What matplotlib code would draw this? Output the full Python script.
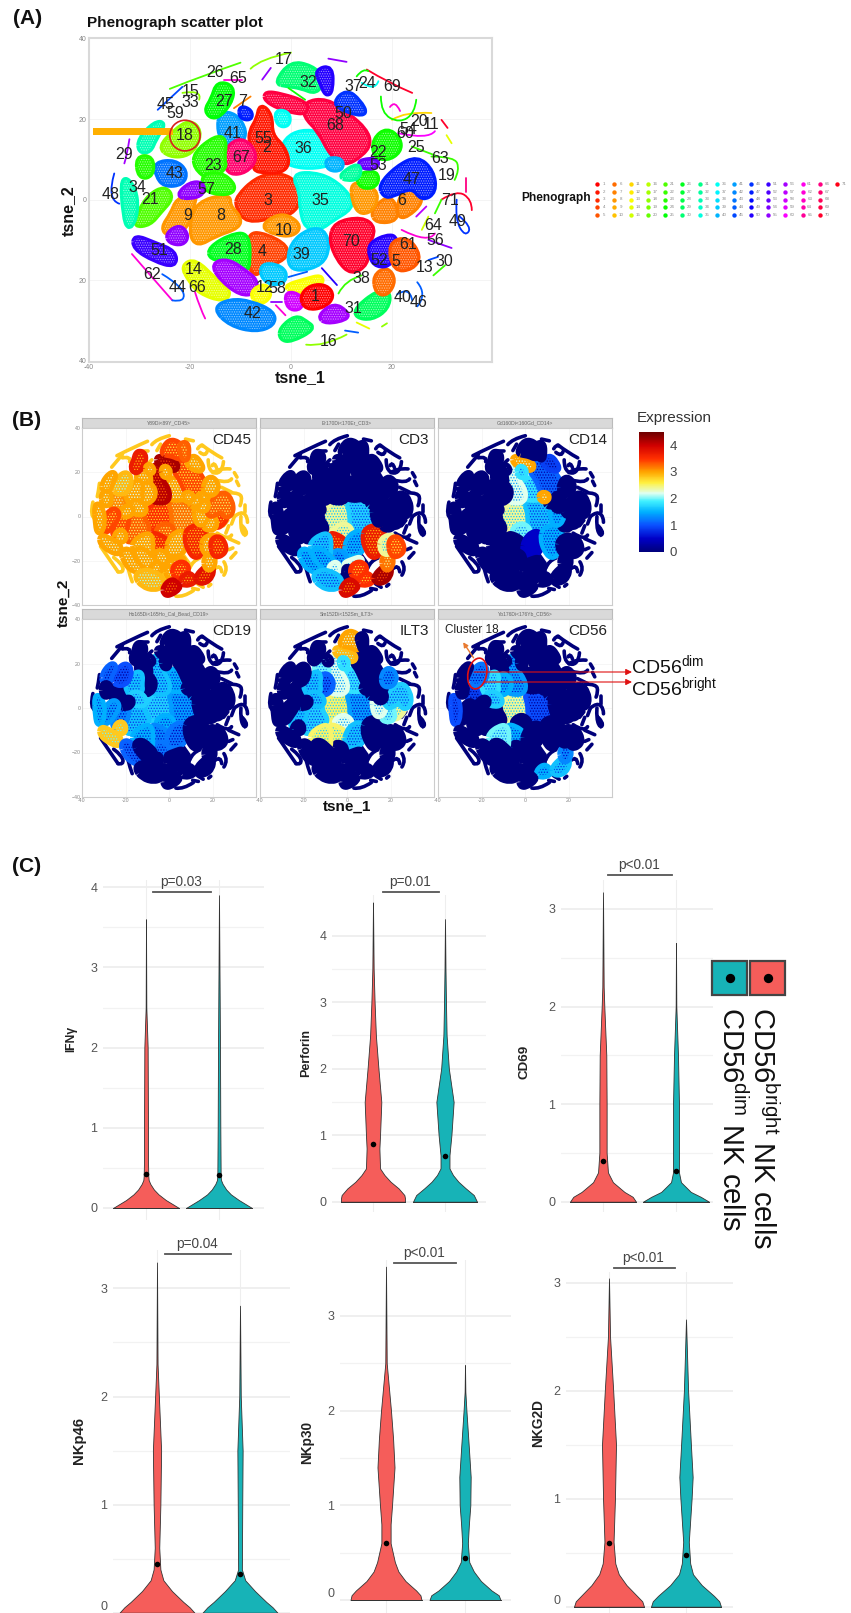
import numpy as np
import matplotlib
matplotlib.use('Agg')
import matplotlib.pyplot as plt
from matplotlib.colors import hsv_to_rgb, LinearSegmentedColormap, Normalize, to_rgb
from matplotlib.patches import Ellipse, Rectangle, PathPatch
from matplotlib.path import Path
from matplotlib.cm import ScalarMappable

plt.rcParams['font.family'] = ['Liberation Sans', 'DejaVu Sans']
plt.rcParams['mathtext.fontset'] = 'custom'
plt.rcParams['mathtext.rm'] = 'Liberation Sans'
plt.rcParams['mathtext.default'] = 'rm'
plt.rcParams['hatch.linewidth'] = 0.6

W, H = 851, 1613

# tSNE clusters: name, colour number, outline
cluster_outlines = [
    ('3', 3, [(-10.5, 0.7), (-7, 5), (-3, 6.5), (1, 4.5), (1.9, 0), (0, -3.4), (-3, -4), (-8.7, -5.5), (-10.7, -1.7)]),
    ('35', 35, [(0.5, 6), (4, 6.5), (8, 5), (11.5, 1), (12, -2), (8, -5), (6, -7), (3, -7), (2, -2), (2, 2)]),
    ('36', 36, [(-1, 15), (2, 17), (6, 16.5), (8, 12), (9, 9.5), (5, 8), (0, 8.5), (-2, 11)]),
    ('2', 2, [(-6, 23.5), (-4, 21), (-4, 16), (-1.5, 13), (-0.5, 9), (-2, 7), (-5, 7), (-7.5, 7.5), (-6.5, 11), (-8, 14), (-8, 17), (-6.5, 20)]),
    ('68', 69, [(2.8, 24), (7, 24.8), (11.4, 21), (14.7, 17.3), (15.6, 14), (14, 11.2), (10.7, 8.7), (8, 11.2), (5.5, 17.3), (2.8, 20.6)]),
    ('50', 69, [(-5, 26.5), (-2, 26), (3, 24), (3, 21.5), (0, 22), (-2.5, 23), (-5, 24.8)]),
    ('8', 8, [(-18.9, -1), (-12.3, 1.2), (-12.3, -1.7), (-10.3, -4.2), (-10.3, -6.7), (-15, -8.7), (-18.5, -11.3), (-19.9, -8.4)]),
    ('9', 8, [(-22.5, -0.1), (-18.9, 1.6), (-19.5, -1.7), (-20.5, -6.7), (-24.1, -8.8), (-25.5, -7.1), (-23.5, -3.4)]),
    ('10', 8, [(-5.7, -6.7), (-3, -4.2), (-0.5, -4.2), (1.8, -6.7), (0.2, -8.8), (-3, -8.4)]),
    ('4', 4, [(-8.4, -8.4), (-5, -8.8), (-0.8, -11.7), (-1.2, -14.6), (-5.7, -16.7), (-7, -18.8), (-8.4, -15.9)]),
    ('39', 39, [(0.2, -10.9), (3.5, -7.6), (6.4, -7.6), (7.4, -11.7), (6.1, -15.9), (1.5, -17.5), (-0.5, -15.9)]),
    ('39b', 39, [(-5.7, -16.3), (-3, -16.3), (-1.1, -18), (-1.5, -20.5), (-4, -20.8), (-5.7, -19)]),
    ('70', 70, [(8.8, -5.9), (14, -4.6), (16.6, -7.1), (15, -11.7), (15, -15.9), (12, -18.3), (9.4, -15), (7.8, -10)]),
    ('28', 26, [(-16, -12), (-12, -9), (-8.5, -8.5), (-8.4, -16), (-9, -17.5), (-12, -15), (-16, -14.5)]),
    ('43', 43, [(-26.8, 9), (-23, 9.5), (-20.8, 7), (-21.5, 4), (-25, 3.5), (-26.5, 6)]),
    ('41', 41, [(-14, 21.5), (-11, 21), (-9, 17), (-10, 14), (-13, 14), (-14.3, 17)]),
    ('67', 67, [(-13, 12), (-10.5, 15), (-8, 13.5), (-7, 10), (-9, 7), (-12, 6.5), (-13, 9)]),
    ('23', 23, [(-19, 11.5), (-15, 15.5), (-13, 15), (-13.5, 10), (-13, 8), (-16, 5), (-19, 8)]),
    ('23b', 23, [(-17.5, 6), (-14, 6.5), (-11.5, 4), (-11.5, 2), (-14, 1.5), (-17, 2.5)]),
    ('18', 18, [(-26, 13), (-23, 17), (-20, 19.5), (-18, 17), (-19, 13), (-21, 11), (-24, 11)]),
    ('57', 55, [(-22.5, 1), (-20, 4), (-17.5, 4), (-17.5, 1.5), (-20, 0.5)]),
    ('21', 21, [(-28, 1), (-25, 3), (-23.5, 0.5), (-26, -3), (-28, -6), (-31, -6.5), (-30, -3)]),
    ('34a', 33, [(-33.5, 6), (-31, 3), (-30.5, -3), (-32, -7.5), (-33, -4)]),
    ('29a', 33, [(-30, 15), (-27, 19), (-25, 19), (-27, 15), (-28, 12), (-30, 12)]),
    ('34b', 23, [(-30.5, 10.5), (-27.5, 10.5), (-27.5, 6), (-30, 5.5)]),
    ('51', 51, [(-31, -9), (-27, -11), (-23, -13), (-23, -16.5), (-27, -15), (-31, -12)]),
    ('p9', 55, [(-24.5, -8.5), (-22, -6.5), (-20.5, -9), (-21.5, -11), (-24, -10.5)]),
    ('14', 14, [(-21.5, -16.5), (-19, -15), (-15, -20), (-12, -23), (-13.5, -25), (-18, -23), (-20, -20)]),
    ('12p', 56, [(-15.5, -16), (-12.5, -15), (-9, -18), (-7, -20), (-7, -23), (-10, -23.5), (-14, -19.5)]),
    ('12', 13, [(-8, -23), (-5, -21), (-4, -24), (-6.5, -26)]),
    ('58', 13, [(-1, -21.5), (3, -20), (6, -19), (6, -21), (3, -23), (0, -22.5)]),
    ('58p', 58, [(-1, -23), (2, -24), (2, -27), (-0.5, -27)]),
    ('1', 1, [(2, -24), (4, -21.5), (7, -21.5), (8.3, -24), (6.5, -26.5), (3, -27)]),
    ('42', 42, [(-15.2, -27), (-12, -25), (-8, -25.5), (-3.5, -28), (-3.5, -31), (-7, -32.5), (-12, -31)]),
    ('31', 56, [(5.5, -29), (8.5, -26), (11, -28), (11, -29.5), (7, -30.5)]),
    ('16', 29, [(-2, -32), (1, -29), (3, -30.5), (4.5, -32), (0, -35), (-2, -34.5)]),
    ('38', 29, [(13, -27), (17, -23), (19.5, -23), (19, -27), (16, -29.5), (13, -29)]),
    ('5o', 6, [(16.5, -19), (19, -17), (20.5, -20), (19, -23.5), (17, -23)]),
    ('52', 50, [(15.7, -11), (19, -9), (21, -9.5), (20, -16), (17, -16.5), (15.7, -14)]),
    ('5', 5, [(19.5, -11), (23, -9.5), (25.5, -14), (24, -17), (20.5, -17.5)]),
    ('6', 7, [(21, -2), (23, 3.5), (26.5, 0), (22, -5)]),
    ('6b', 7, [(16, -3), (19, 0.5), (20.5, -1), (21, -5), (17, -5.5)]),
    ('6c', 8, [(12, 4.5), (17, 2.5), (16.5, -2), (14, -3.5), (12.5, -1)]),
    ('47', 47, [(17.6, 3.5), (21, 8), (25, 10.5), (28, 7), (28.5, 2), (26, 0), (24, 3.5), (20, 1), (18.5, 1)]),
    ('53g', 24, [(13, 6), (17, 7), (17, 3.5), (14, 3)]),
    ('53p', 53, [(13.5, 9.5), (17, 10), (17, 8), (14, 8)]),
    ('32b', 32, [(9.7, 6), (13.5, 9), (13.5, 5.5), (11, 5)]),
    ('22', 24, [(16.5, 15), (19, 17.5), (21.5, 15), (21.5, 12), (19, 10), (16.5, 11)]),
    ('37', 46, [(8.5, 24), (11, 27), (13.5, 24.5), (15, 21), (11, 22)]),
    ('32', 30, [(-3, 29), (0, 34), (4, 33), (6.5, 30), (5, 26.5), (2, 28), (-1, 28.5)]),
    ('32p', 50, [(5, 32), (8, 33), (8, 27), (7, 26), (6, 29)]),
    ('27', 25, [(-14.5, 29), (-11.5, 28), (-12, 24), (-15, 20), (-17, 22), (-15.5, 25)]),
    ('7b', 47, [(-10, 23), (-8, 22), (-8, 20), (-10, 20.5)]),
    ('36b', 36, [(-3, 22), (-0.5, 21.5), (-0.5, 18.5), (-2.5, 18.5)]),
    ('40', 40, [(7, 10), (10, 10), (10, 7.5), (7.5, 7.5)]),
]

# thin arcs round the outside of the map: colour number, points
strands = [
    (21, [(-24, 27.5), (-17, 31), (-10, 34)]), (18, [(-8, 32.5), (-6, 35), (0, 36.5)]),
    (56, [(-32, 15), (-32.5, 11), (-33, 9)]), (46, [(-35, 6.5), (-36.5, 0), (-34, -1)]),
    (62, [(-31.5, -13.5), (-27, -20), (-23.5, -25)]), (44, [(-25.5, -18.5), (-21.5, -21.5), (-21, -25.5), (-23.5, -25)]),
    (62, [(-19, -23), (-18, -27), (-17, -29.5)]), (18, [(3, -36), (6.5, -36.5), (11, -33.5)]),
    (44, [(10.7, -32.5), (13.3, -33)]), (14, [(13, -30.5), (15.5, -32)]), (18, [(18, -31.5), (19, -30.7)]),
    (44, [(21, -23.5), (23.5, -21.5), (24, -25)]), (44, [(25, -20.5), (27, -23.5), (25, -26.5)]),
    (46, [(32.8, 0), (32.5, -5), (34.5, -9.2), (35.8, -6.7), (33.4, -4.2)]),
    (70, [(29.8, 0), (32.8, 2.4), (35.8, 0), (35.8, -2.6)]), (22, [(27.8, 10.7), (32.4, 10.7), (33.4, 7.4), (32.4, 4.9)]),
    (70, [(29.8, 19.8), (31, 17.8)]), (14, [(30.8, 16), (31.8, 14)]), (22, [(23.9, 13.2), (28.5, 11)]),
    (11, [(20, 19.8), (22.5, 21.9), (27.8, 21.5)]), (24, [(17.8, 25.6), (17.8, 21.5), (21.5, 19), (24.5, 21.5), (24.8, 24.8)]),
    (62, [(19.6, 23), (20.6, 24.8), (21.6, 22)]), (60, [(21.2, 16.5), (27.2, 14.9), (28.5, 17)]),
    (70, [(15, 32.3), (19.3, 29), (24, 26.5)]), (24, [(13, 30.6), (14.3, 32.7), (15.3, 31.9)]),
    (36, [(14, 29), (16.6, 26.9), (17.3, 29.4)]), (24, [(-0.5, 27.7), (2.8, 24.8)]), (62, [(-13.3, 29.8), (-9.7, 29.8)]),
    (55, [(-5.7, 29.8), (-4, 32.7)]), (7, [(-11.3, 22.7), (-8, 25.6)]), (18, [(-21.5, 26.5), (-17.5, 27.3), (-18.2, 24.8)]),
    (45, [(-26.4, 22.3), (-21.5, 28)]), (55, [(7.4, 35), (11, 34.2)]), (62, [(21.9, -7.5), (27.2, -10.9), (28.5, -8.4)]),
    (55, [(27.2, -10), (31.8, -12)]), (22, [(28.5, -3.4), (29.8, 0)]), (15, [(25.9, -7.5), (27.2, -4.2)]),
    (57, [(24.8, -4.2), (26.8, -1.7)]), (66, [(34.7, 5.3), (34.7, 2)]), (22, [(28.2, -18.8), (30.5, -16.3)]),
    (45, [(27.2, -15), (29.1, -14.2)]), (22, [(9.4, -23.3), (10.7, -20), (14, -18.8)]), (50, [(6.1, -17), (9.1, -21.2)]),
    (44, [(-0.5, -19.2), (3.2, -17.9)]), (55, [(-4, -25.4), (-1.8, -25.4)]), (62, [(-3, -26.2), (-1.1, -28.7)]),
]

# number labels on panel A
label_ids = [17, 26, 65, 32, 37, 24, 69, 15, 33, 45, 59, 27, 7, 50, 68, 20, 11, 54, 60, 18, 41, 55, 2, 36, 25, 22, 29, 67,
             63, 23, 53, 19, 43, 47, 34, 57, 48, 21, 3, 35, 6, 71, 9, 8, 49, 64, 10, 56, 70, 28, 4, 61, 51, 39, 52, 5, 30,
             13, 14, 62, 38, 44, 66, 12, 58, 1, 40, 46, 31, 42, 16]
label_x = [-1.4, -15, -10.5, 3.5, 12.4, 15, 20, -19.9, -20, -24.9, -23, -13.2, -9.5, 10.3, 8.8, 25.3, 27.8, 23.2, 22.6, -21,
           -11.5, -5.5, -4.9, 2.5, 24.7, 17.3, -33, -9.9, 29.5, -15.5, 17.3, 30.8, -23, 23.9, -30.4, -16.8, -35.8, -27.9,
           -4.5, 5.8, 21.9, 31.4, -20.5, -13.9, 32.9, 28.2, -1.4, 28.5, 11.9, -11.5, -5.7, 23.2, -26.1, 2, 17.4, 20.8,
           30.3, 26.4, -19.2, -27.6, 14, -22.4, -18.6, -5.3, -2.8, 4.8, 22, 25.2, 12.4, -7.7, 7.4]
label_y = [34.8, 31.5, 30, 29, 28, 28.8, 28, 26.9, 24.2, 23.6, 21.3, 24.4, 24.4, 21.5, 18.3, 19.4, 18.6, 17.5, 16.3, 15.9,
           16.3, 15.3, 12.9, 12.6, 13, 11.8, 11.1, 10.5, 10.1, 8.5, 8.4, 6.1, 6.4, 5, 3, 2.6, 1.2, 0.1, -0.1, -0.1, -0.3,
           -0.3, -4, -4, -5.5, -6.3, -7.6, -10.2, -10.3, -12.4, -12.8, -11.1, -12.7, -13.6, -15, -15.4, -15.4, -16.8,
           -17.3, -18.5, -19.6, -21.7, -21.9, -21.9, -22.1, -24.1, -24.4, -25.6, -27.1, -28.3, -35.1]

# panel B: expression per cluster, clusters not listed take the default
markers = ['CD45', 'CD3', 'CD14', 'CD19', 'ILT3', 'CD56']
strip_titles = ['Y89Di<89Y_CD45>', 'Er170Di<170Er_CD3>', 'Gd160Di<160Gd_CD14>',
                'Ho165Di<165Ho_Cal_Bead_CD19>', 'Sm152Di<152Sm_ILT3>', 'Yb176Di<176Yb_CD56>']
default_expr = [3.0, 0, 0, 0, 0, 0]
strand_expr = [2.8, 0, 0, 0, 0, 0]
expr_cd45 = {'2': 4.1, '50': 4.2, '68': 3.4, '3': 3.5, '35': 3.2, '8': 3.3, '9': 3.4, '4': 3.6, '70': 3.6, '10': 3.3,
             '16': 4.0, '38': 3.8, '31': 3.7, '1': 3.5, '27': 3.7, '32': 3.4, '32p': 3.3, '21': 3.4, '42': 2.9, '5': 3.6,
             '47': 3.3, '6': 3.5, '18': 2.9, '43': 3.1}
expr_cd3 = {'3': 2.4, '35': 1.7, '10': 2.4, '4': 3.7, '39': 1.5, '39b': 1.4, '70': 3.7, '5': 3.4, '52': 2.4, '1': 3.5,
            '16': 3.9, '38': 4.2, '31': 3.5, '28': 1.6, '14': 1.5, '12p': 1.5, '42': 1.6, '58': 2.2, '12': 2.2, '5o': 3.2}
expr_cd14 = {'2': 2.2, '50': 3.0, '36': 1.8, '36b': 1.8, '68': 1.1, '35': 1.6, '3': 2.4, '70': 1.5, '40': 3.0, '37': 0.9,
             '10': 2.0, '39': 0.5, '6c': 1.5}
expr_cd19 = {'p9': 2.8, '51': 2.8, '34a': 1.5, '21': 1.4, '29a': 1.1, '18': 1.0, '23': 1.6, '23b': 1.7, '3': 1.7, '8': 1.6,
             '35': 1.4, '2': 1.6, '36': 1.5, '4': 1.3, '10': 1.5, '39': 1.2, '28': 1.5, '9': 1.3, '39b': 1.2, '14': 1.1}
expr_ilt3 = {'32': 3.0, '50': 2.9, '2': 2.2, '36': 1.8, '36b': 1.8, '3': 2.5, '35': 1.4, '47': 1.7, '6': 2.4, '6c': 2.2,
             '6b': 2.0, '4': 2.5, '8': 1.7, '9': 1.6, '28': 2.5, '10': 2.2, '23': 1.6, '23b': 1.6, '67': 1.1, '22': 1.3,
             '41': 2.0, '39': 1.6}
expr_cd56 = {'18': 1.2, '23': 1.8, '23b': 1.7, '3': 2.4, '67': 1.5, '43': 0.9, '28': 2.0, '31': 1.5, '2': 1.4, '35': 1.0,
             '4': 1.5, '5o': 1.3, '38': 1.6, '34a': 1.0}
expr_tables = [expr_cd45, expr_cd3, expr_cd14, expr_cd19, expr_ilt3, expr_cd56]

exp_colors = ['#00007A', '#0000C8', '#0A50FF', '#00B0FF', '#40F0FF', '#E0FFF0', '#FFF040', '#FFA500', '#FF3000', '#D00000',
              '#6B0000']
exp_stops = [0, 0.5, 1, 1.5, 1.9, 2.2, 2.6, 3, 3.5, 4, 4.5]

# panel C: violin outlines, half width as a share of the full half width
violin_names = ['IFNγ', 'Perforin', 'CD69', 'NKp46', 'NKp30', 'NKG2D']
violin_p = ['p=0.03', 'p=0.01', 'p<0.01', 'p=0.04', 'p<0.01', 'p<0.01']
red_y = [[0, .05, .1, .17, .23, .3, .35, .4, .6, 1, 2, 2.5, 3.6],
         [0, .05, .1, .2, .3, .4, .5, .8, 1, 1.5, 2, 2.5, 3, 3.5, 4, 4.5],
         [0, .05, .1, .2, .3, .5, 1, 1.5, 2, 2.2, 3.17],
         [0, .05, .1, .2, .3, .4, .6, 1, 1.5, 2, 2.3, 3.24],
         [0, .05, .1, .2, .3, .4, .6, .8, 1, 1.4, 1.7, 2, 2.5, 3.52],
         [0, .05, .1, .2, .3, .4, .6, 1, 1.5, 2, 2.5, 3.04]]
red_w = [[1, .8, .6, .38, .24, .13, .08, .07, .06, .06, .05, .01, 0],
         [1, 1, .98, .8, .55, .36, .22, .2, .22, .26, .17, .09, .05, .02, .01, 0],
         [1, .9, .65, .3, .15, .11, .11, .1, .04, .02, 0],
         [1, .87, .7, .4, .17, .09, .06, .09, .11, .05, .015, 0],
         [1, .97, .85, .55, .35, .25, .13, .13, .17, .24, .2, .14, .02, 0],
         [1, .95, .8, .5, .28, .18, .13, .17, .2, .12, .03, 0]]
teal_y = [[0, .05, .1, .17, .23, .3, .35, .4, 1, 2, 3.9],
          [0, .1, .2, .3, .4, .5, .7, 1, 1.5, 2, 2.5, 3, 3.5, 4.25],
          [0, .05, .1, .2, .3, .5, 1, 1.5, 2, 2.65],
          [0, .05, .1, .2, .3, .4, 1, 1.5, 2, 2.84],
          [0, .05, .1, .2, .3, .4, .6, .8, 1, 1.3, 1.6, 2, 2.2, 2.48],
          [0, .05, .1, .2, .3, .4, .6, 1, 1.2, 1.5, 2, 2.66]]
teal_w = [[1, .8, .6, .36, .22, .11, .06, .05, .04, .03, 0],
          [1, .9, .65, .42, .25, .14, .14, .2, .27, .12, .05, .03, .015, 0],
          [1, .75, .45, .15, .09, .09, .09, .06, .01, 0],
          [1, .87, .7, .4, .14, .05, .06, .07, .02, 0],
          [1, .95, .75, .45, .25, .12, .08, .11, .15, .16, .11, .04, .01, 0],
          [1, .95, .8, .45, .2, .12, .08, .16, .19, .14, .06, 0]]
red_dot = [.42, .87, .42, .45, .6, .59]
teal_dot = [.41, .69, .31, .36, .44, .48]
violin_ticks = [[0, 1, 2, 3, 4], [0, 1, 2, 3, 4], [0, 1, 2, 3], [0, 1, 2, 3], [0, 1, 2, 3], [0, 1, 2, 3]]


def px_axes(left, right, top, bottom, **kw):
    return fig.add_axes([left / W, 1 - bottom / H, (right - left) / W, (bottom - top) / H], **kw)


def rainbow(i):
    return hsv_to_rgb(((i - 1) / 71, 1, 1))


def tint(c, share):
    # colour mixed with white, for the speckle inside a cluster
    c = np.array(to_rgb(c))
    return tuple(c + (1 - c) * share)


def blob_path(xy):
    # rounded closed outline: corners act as bezier control points
    p = np.array(xy, dtype=float)
    mid = (p + np.roll(p, -1, axis=0)) / 2
    verts = [mid[-1]]
    codes = [Path.MOVETO]
    for a, b in zip(p, mid):
        verts += [a, b]
        codes += [Path.CURVE3, Path.CURVE3]
    return Path(verts, codes)


def arc_path(xy):
    p = np.array(xy, dtype=float)
    if len(p) == 2:
        return Path(p)
    verts = [p[0]]
    codes = [Path.MOVETO]
    for i in range(1, len(p) - 1):
        end = p[i + 1] if i == len(p) - 2 else (p[i] + p[i + 1]) / 2
        verts += [p[i], end]
        codes += [Path.CURVE3, Path.CURVE3]
    return Path(verts, codes)


fig = plt.figure(figsize=(W / 100, H / 100), dpi=100)
top = px_axes(0, W, 0, H, zorder=10)
top.set_xlim(0, W)
top.set_ylim(H, 0)
top.axis('off')

# ---- panel A
ax = px_axes(89, 492, 38.5, 362)
ax.set_xlim(-40, 39.8)
ax.set_ylim(-40.3, 40)
for name, cid, xy in cluster_outlines:
    c = rainbow(cid)
    ax.add_patch(PathPatch(blob_path(xy), fc=c, ec=c, lw=4.6, joinstyle='round'))
    ax.add_patch(PathPatch(blob_path(xy), fc='none', ec=tint(c, 0.55), lw=0, hatch='.' * 7))
for cid, xy in strands:
    ax.add_patch(PathPatch(arc_path(xy), fc='none', ec=rainbow(cid), lw=1.3, capstyle='round'))
for i, x, y in zip(label_ids, label_x, label_y):
    ax.text(x, y, str(i), ha='center', va='center', fontsize=11.5, color='#222222')
ax.add_patch(Rectangle((-39.3, 16), 15.9, 1.7, fc='#FFB000', ec='none'))
ax.add_patch(Ellipse((-21, 15.9), 6, 7.6, fc='none', ec='#D62020', lw=1.2))
ax.set_xticks([-40, -20, 0, 20])
ax.set_yticks([-40, -20, 0, 20, 40])
ax.set_yticklabels(['40', '20', '0', '20', '40'])
ax.set_xticklabels(['-40', '-20', '0', '20'])
ax.tick_params(labelsize=5, colors='#888888', length=0, pad=1.5)
ax.grid(True, color='#F3F3F3', lw=0.6)
ax.set_axisbelow(True)
for s in ax.spines.values():
    s.set_color('#D9D9D9')
    s.set_linewidth(1.5)

top.text(13, 19, '(A)', fontsize=15, fontweight='bold', va='center', color='#111111')
top.text(87, 23, 'Phenograph scatter plot', fontsize=11, fontweight='bold', va='center', color='#111111')
top.text(68, 211, 'tsne_2', fontsize=11.5, fontweight='bold', rotation=90, ha='center', va='center', color='#111111')
top.text(300, 378, 'tsne_1', fontsize=11.5, fontweight='bold', ha='center', va='center', color='#111111')

# cluster legend
leg = px_axes(590, W, 178, 221)
leg.set_xlim((590 - 596.7) / 17.15, (W - 596.7) / 17.15)
leg.set_ylim((221 - 184) / 7.75, (178 - 184) / 7.75)
leg.axis('off')
for i in range(1, 72):
    col, row = (i - 1) // 5, (i - 1) % 5
    leg.scatter(col, row, s=10, color=rainbow(i), lw=0)
    leg.text(col + 0.42, row, str(i), fontsize=3.2, color='#888888', va='center', ha='center')
top.text(521, 198, 'Phenograph', fontsize=8.6, fontweight='bold', va='center', color='#111111')

# ---- panel B
cmap = LinearSegmentedColormap.from_list('expr', [(s / 4.5, c) for s, c in zip(exp_stops, exp_colors)])
norm = Normalize(0, 4.5)
col_px = [(82, 256), (260, 434), (438, 612)]
row_px = [(418, 428, 605), (609, 619, 797)]
for k, marker in enumerate(markers):
    left, right = col_px[k % 3]
    strip_top, panel_top, panel_bottom = row_px[k // 3]
    strip = px_axes(left, right, strip_top, panel_top)
    strip.set_facecolor('#D9D9D9')
    strip.set_xticks([])
    strip.set_yticks([])
    for s in strip.spines.values():
        s.set_color('#BBBBBB')
    strip.text(0.5, 0.5, strip_titles[k], transform=strip.transAxes, fontsize=3.6, color='#666666', ha='center', va='center')

    f = px_axes(left, right, panel_top, panel_bottom)
    f.set_xlim(-40, 39.7)
    f.set_ylim(-40, 40)
    for cid, xy in strands:
        f.add_patch(PathPatch(arc_path(xy), fc='none', ec=cmap(norm(strand_expr[k])), lw=2.6, capstyle='round'))
    for name, cid, xy in cluster_outlines:
        v = expr_tables[k].get(name, default_expr[k])
        c = cmap(norm(v))
        f.add_patch(PathPatch(blob_path(xy), fc=c, ec=c, lw=6.5, joinstyle='round'))
        if v > 0.6:
            f.add_patch(PathPatch(blob_path(xy), fc='none', ec=cmap(norm(v - 0.8)), lw=0, hatch='.' * 6))
    f.set_xticks([-40, -20, 0, 20])
    f.set_yticks([-40, -20, 0, 20, 40])
    f.set_xticklabels(['-40', '-20', '0', '20'])
    f.tick_params(labelsize=3.8, colors='#888888', length=0, pad=1)
    f.tick_params(labelbottom=k >= 3, labelleft=k % 3 == 0)
    f.grid(True, color='#F3F3F3', lw=0.5)
    f.set_axisbelow(True)
    for s in f.spines.values():
        s.set_color('#CCCCCC')
    f.text(0.97, 0.93, marker, transform=f.transAxes, fontsize=11, ha='right', va='center', color='#222222')
    if marker == 'CD56':
        f.add_patch(Ellipse((-22, 15.5), 8.5, 14, angle=-12, fc='none', ec='#E01010', lw=1.2))
        f.annotate('', xy=(-29.2, 30.6), xytext=(-23, 21.5),
                   arrowprops=dict(arrowstyle='-|>', color='#E87A30', lw=1, mutation_scale=7))

cax = px_axes(639, 664, 432, 552)
cb = fig.colorbar(ScalarMappable(norm=norm, cmap=cmap), cax=cax)
cb.set_ticks([0, 1, 2, 3, 4])
cb.ax.tick_params(labelsize=9.5, colors='#444444', length=0, pad=4)
cb.outline.set_visible(False)
top.text(637, 418, 'Expression', fontsize=11, color='#333333', va='center')

top.text(12, 420, '(B)', fontsize=15, fontweight='bold', va='center', color='#111111')
top.text(64, 603, 'tsne_2', fontsize=11, fontweight='bold', rotation=90, ha='center', va='center', color='#111111')
top.text(347, 807, 'tsne_1', fontsize=11, fontweight='bold', ha='center', va='center', color='#111111')
top.text(472, 630, 'Cluster 18', fontsize=8.5, ha='center', va='center', color='#222222')
top.annotate('', xy=(632, 672), xytext=(474, 672), arrowprops=dict(arrowstyle='-|>', color='#E01010', lw=0.8, mutation_scale=9, shrinkA=0, shrinkB=0))
top.annotate('', xy=(632, 682), xytext=(484, 682), arrowprops=dict(arrowstyle='-|>', color='#E01010', lw=0.8, mutation_scale=9, shrinkA=0, shrinkB=0))
top.text(631, 665, r'CD56$^{\mathrm{dim}}$', fontsize=14, va='center', color='#111111')
top.text(631, 687, r'CD56$^{\mathrm{bright}}$', fontsize=14, va='center', color='#111111')

# ---- panel C
grid_px = [(103, 264), (332, 486), (561, 713), (113, 290), (340, 511), (566, 733)]
cat_px = [(146, 219), (373, 445), (603, 676), (157, 240), (386, 465), (609, 686)]
half_px = [33, 32, 33, 37.5, 35.5, 35]
y0_px = [1208, 1201.7, 1201.7, 1612.7, 1600, 1606.7]
ppu_px = [80.2, 66.5, 97.6, 108.1, 94.7, 108]
top_px = [880, 895, 880, 1250, 1260, 1272]
bottom_px = [1220, 1212, 1212, 1613, 1613, 1613]
label_px = [(71, 1039), (306, 1053), (524, 1062), (79, 1440), (307, 1443), (538, 1423)]
bracket_px = [(153, 211, 892), (383, 439, 892), (608, 672, 875), (165, 231, 1254), (394, 456, 1263), (614, 675, 1268)]
ylab_sizes = [8.7, 9, 9.6, 10.7, 9.8, 9.9]

for k in range(6):
    gl, gr = grid_px[k]
    x1, x2 = cat_px[k]
    v = px_axes(gl, gr, top_px[k], bottom_px[k])
    per_cat = x2 - x1
    v.set_xlim(1 + (gl - x1) / per_cat, 1 + (gr - x1) / per_cat)
    v.set_ylim((y0_px[k] - bottom_px[k]) / ppu_px[k], (y0_px[k] - top_px[k]) / ppu_px[k])
    hw = half_px[k] / per_cat
    for pos, ys, ws, dot, col in [(1, red_y[k], red_w[k], red_dot[k], '#F55D5A'), (2, teal_y[k], teal_w[k], teal_dot[k], '#17B3B7')]:
        ys, ws = np.array(ys), np.array(ws) * hw
        v.fill_betweenx(ys, pos - ws, pos + ws, fc=col, ec='#333333', lw=0.6, zorder=3)
        v.plot([pos - ws[0], pos + ws[0]], [0, 0], color='#333333', lw=0.7, zorder=3)
        v.scatter(pos, dot, s=16, color='black', lw=0, zorder=4)
    v.set_xticks([1, 2])
    v.set_xticklabels([])
    ticks = violin_ticks[k]
    v.set_yticks(ticks)
    v.set_yticks([t + 0.5 for t in ticks[:-1]], minor=True)
    v.tick_params(axis='both', which='both', length=0)
    v.tick_params(axis='y', labelsize=9, colors='#555555', pad=4)
    if k >= 3:
        # the zero sits right on the bottom edge of the image
        v.get_yticklabels()[0].set_va('bottom')
    v.grid(True, which='major', axis='y', color='#EEEEEE', lw=1.3)
    v.grid(True, which='minor', axis='y', color='#F2F2F2', lw=0.9)
    v.grid(True, which='major', axis='x', color='#EEEEEE', lw=0.8)
    v.set_axisbelow(True)
    for s in v.spines.values():
        s.set_visible(False)
    lx, ly = label_px[k]
    top.text(lx, ly, violin_names[k], fontsize=ylab_sizes[k], fontweight='bold', rotation=90, ha='center', va='center', color='#222222')
    bl, br, by = bracket_px[k]
    top.plot([bl, br], [by, by], color='#555555', lw=1.3)
    top.text((bl + br) / 2 - 1, by - 10, violin_p[k], fontsize=9.8, ha='center', va='center', color='#444444')

top.text(12, 867, '(C)', fontsize=15, fontweight='bold', va='center', color='#111111')

# legend of panel C, turned on its side
for bx, col in [(712, '#17B3B7'), (750, '#F55D5A')]:
    top.add_patch(Rectangle((bx, 961), 35, 34, fc=col, ec='#444444', lw=1.6))
    top.scatter(bx + 17.5, 978, s=45, color='black', lw=0, zorder=5)
top.text(762, 1007, r'CD56$^{\mathrm{bright}}$ NK cells', fontsize=21, rotation=-90, ha='center', va='top', color='#111111')
top.text(731, 1007, r'CD56$^{\mathrm{dim}}$ NK cells', fontsize=21, rotation=-90, ha='center', va='top', color='#111111')
top.set_xlim(0, W)
top.set_ylim(H, 0)

fig.savefig('out.png', dpi=100)
